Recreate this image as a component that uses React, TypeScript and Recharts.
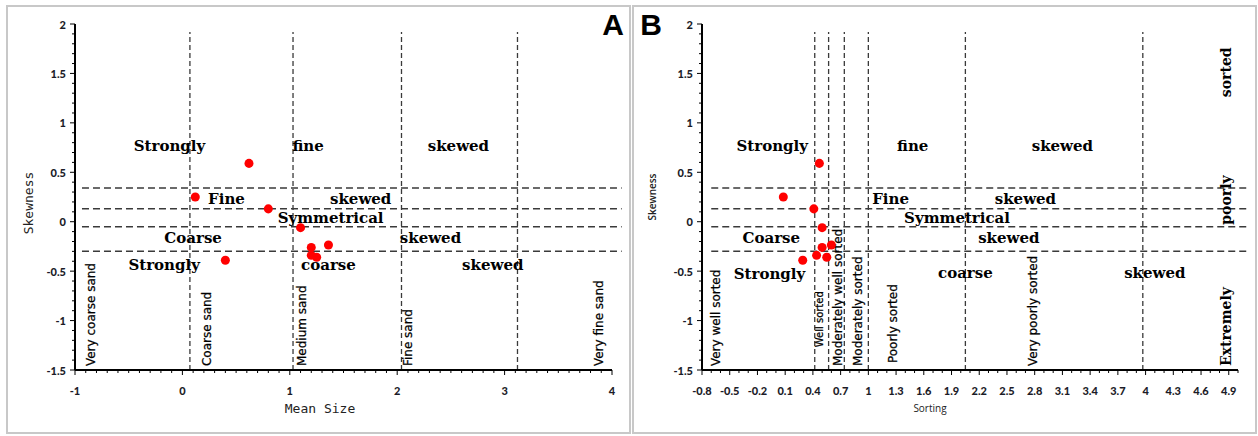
import { ReferenceDot, ReferenceLine, Scatter, ScatterChart, XAxis, YAxis, ZAxis } from "recharts";

// sample values (same 9 samples in both)
const MEAN_SIZE = [0.62, 0.12, 0.8, 1.1, 1.2, 1.36, 1.2, 1.25, 0.4];
const SORTING = [0.47, 0.08, 0.41, 0.5, 0.5, 0.6, 0.44, 0.55, 0.29];
const SKEWNESS = [0.59, 0.25, 0.13, -0.06, -0.26, -0.235, -0.34, -0.36, -0.39];

const SKEW_TICKS = [-1.5, -1, -0.5, 0, 0.5, 1, 1.5, 2];
const MEAN_TICKS = [-1, 0, 1, 2, 3, 4];
const SORT_TICKS = [
  -0.8, -0.5, -0.2, 0.1, 0.4, 0.7, 1, 1.3, 1.6, 1.9, 2.2, 2.5, 2.8, 3.1, 3.4, 3.7, 4, 4.3, 4.6, 4.9,
];

// class boundaries (dashed lines)
const SKEW_LIMITS = [0.34, 0.13, -0.05, -0.3];
const MEAN_LIMITS = [0.07, 1.03, 2.04, 3.12];
const SORT_LIMITS = [0.42, 0.57, 0.74, 1.0, 2.05, 3.97];

type Note = { text: string; x: number; y: number };

const SKEW_NOTES_A: Note[] = [
  { text: "Strongly", x: -0.12, y: 0.77 },
  { text: "fine", x: 1.17, y: 0.77 },
  { text: "skewed", x: 2.57, y: 0.77 },
  { text: "Fine", x: 0.41, y: 0.23 },
  { text: "skewed", x: 1.66, y: 0.23 },
  { text: "Symmetrical", x: 1.38, y: 0.04 },
  { text: "Coarse", x: 0.1, y: -0.165 },
  { text: "skewed", x: 2.31, y: -0.165 },
  { text: "Strongly", x: -0.17, y: -0.44 },
  { text: "coarse", x: 1.36, y: -0.44 },
  { text: "skewed", x: 2.89, y: -0.44 },
];

const SIZE_NOTES_A: Note[] = [
  { text: "Very coarse sand", x: -0.85, y: -1.46 },
  { text: "Coarse sand", x: 0.23, y: -1.46 },
  { text: "Medium sand", x: 1.11, y: -1.46 },
  { text: "Fine sand", x: 2.1, y: -1.46 },
  { text: "Very fine sand", x: 3.88, y: -1.46 },
];

const SKEW_NOTES_B: Note[] = [
  { text: "Strongly", x: -0.04, y: 0.77 },
  { text: "fine", x: 1.48, y: 0.77 },
  { text: "skewed", x: 3.1, y: 0.77 },
  { text: "Fine", x: 1.24, y: 0.23 },
  { text: "skewed", x: 2.7, y: 0.23 },
  { text: "Symmetrical", x: 1.96, y: 0.04 },
  { text: "Coarse", x: -0.05, y: -0.165 },
  { text: "skewed", x: 2.52, y: -0.165 },
  { text: "Strongly", x: -0.07, y: -0.53 },
  { text: "coarse", x: 2.05, y: -0.52 },
  { text: "skewed", x: 4.1, y: -0.52 },
];

const SORT_NOTES_B: (Note & { small?: boolean })[] = [
  { text: "Very well sorted", x: -0.65, y: -1.46 },
  { text: "Well sorted", x: 0.47, y: -1.27, small: true },
  { text: "Moderately well sorted", x: 0.67, y: -1.46 },
  { text: "Moderately sorted", x: 0.885, y: -1.46 },
  { text: "Poorly sorted", x: 1.265, y: -1.43 },
  { text: "Very poorly sorted", x: 2.78, y: -1.46 },
];

const EXTREME_NOTES_B: Note[] = [
  { text: "Extremely", x: 4.87, y: -1.46 },
  { text: "poorly", x: 4.87, y: -0.03 },
  { text: "sorted", x: 4.87, y: 1.26 },
];

const SERIF = "'DejaVu Serif', serif";
const SANS = "'DejaVu Sans', sans-serif";
const TICK_FONT = "Lato, 'Open Sans', sans-serif";

function tenths(from: number, to: number): number[] {
  const out: number[] = [];
  for (let i = Math.round(from * 10); i <= Math.round(to * 10); i++) out.push(i / 10);
  return out;
}

const isMajor = (v: number, majors: number[]) => majors.some((m) => Math.abs(m - v) < 1e-6);

function yTick(majors: number[]) {
  return (props: any) => {
    const { x, y, payload } = props;
    const major = isMajor(payload.value, majors);
    return (
      <g>
        <line x1={x - (major ? 5 : 3)} x2={x} y1={y} y2={y} stroke="#000" strokeWidth={1} />
        {major && (
          <text
            x={x - 9}
            y={y}
            textAnchor="end"
            dominantBaseline="central"
            fontFamily={TICK_FONT}
            fontWeight={900}
            fontSize={11}
            fill="#1c1c28"
          >
            {String(payload.value)}
          </text>
        )}
      </g>
    );
  };
}

function xTick(majors: number[]) {
  return (props: any) => {
    const { x, y, payload } = props;
    const major = isMajor(payload.value, majors);
    return (
      <g>
        <line x1={x} x2={x} y1={y} y2={y + (major ? 5 : 3)} stroke="#000" strokeWidth={1} />
        {major && (
          <text
            x={x}
            y={y + 20}
            textAnchor="middle"
            dominantBaseline="central"
            fontFamily={TICK_FONT}
            fontWeight={900}
            fontSize={11}
            fill="#1c1c28"
          >
            {String(payload.value)}
          </text>
        )}
      </g>
    );
  };
}

function boldText(text: string) {
  return (p: any) => (
    <text
      x={p.cx}
      y={p.cy}
      textAnchor="middle"
      dominantBaseline="central"
      fontFamily={SERIF}
      fontWeight={700}
      fontSize={15}
      fill="#000"
    >
      {text}
    </text>
  );
}

function upText(text: string, serif: boolean, size: number) {
  return (p: any) => (
    <text
      x={p.cx}
      y={p.cy}
      transform={`rotate(-90 ${p.cx} ${p.cy})`}
      textAnchor="start"
      dominantBaseline="central"
      fontFamily={serif ? SERIF : SANS}
      fontWeight={serif ? 700 : 400}
      fontSize={size}
      fill="#000"
      stroke={serif ? "none" : "#000"}
      strokeWidth={serif ? 0 : 0.25}
    >
      {text}
    </text>
  );
}

const VLINE = { stroke: "#3a3a3a", strokeWidth: 1.3, strokeDasharray: "5 3" };
const HLINE = { stroke: "#3a3a3a", strokeWidth: 1.5, strokeDasharray: "7 4" };

export default function App() {
  const pointsA = MEAN_SIZE.map((x, i) => ({ x, y: SKEWNESS[i] }));
  const pointsB = SORTING.map((x, i) => ({ x, y: SKEWNESS[i] }));
  const yTicks = tenths(-1.5, 2);

  return (
    <div style={{ position: "absolute", left: 0, top: 0, width: 1258, height: 436, background: "#fff" }}>
      <div
        style={{
          position: "absolute",
          left: 6,
          top: 5,
          width: 625,
          height: 429,
          border: "2px solid #c8c8c8",
          boxSizing: "border-box",
        }}
      />
      <div
        style={{
          position: "absolute",
          left: 632,
          top: 5,
          width: 625,
          height: 429,
          border: "2px solid #c8c8c8",
          boxSizing: "border-box",
        }}
      />

      {/* Panel A: mean size vs skewness */}
      <div style={{ position: "absolute", left: 0, top: 0 }}>
        <ScatterChart width={630} height={436} margin={{ top: 24, right: 18, bottom: 36, left: 35 }}>
          <XAxis
            type="number"
            dataKey="x"
            domain={[-1, 4]}
            ticks={tenths(-1, 4)}
            interval={0}
            tickSize={0}
            tickMargin={0}
            tickLine={false}
            tick={xTick(MEAN_TICKS)}
            axisLine={{ stroke: "#000", strokeWidth: 2 }}
            height={30}
          />
          <YAxis
            type="number"
            dataKey="y"
            domain={[-1.5, 2]}
            ticks={yTicks}
            interval={0}
            tickSize={0}
            tickMargin={0}
            tickLine={false}
            tick={yTick(SKEW_TICKS)}
            axisLine={{ stroke: "#000", strokeWidth: 2 }}
            width={40}
          />
          <ZAxis range={[50, 50]} />
          {MEAN_LIMITS.map((v) => (
            <ReferenceLine
              key={`va${v}`}
              segment={[
                { x: v, y: -1.5 },
                { x: v, y: 1.92 },
              ]}
              ifOverflow="visible"
              {...VLINE}
            />
          ))}
          {SKEW_LIMITS.map((v) => (
            <ReferenceLine
              key={`ha${v}`}
              segment={[
                { x: -0.935, y: v },
                { x: 4.09, y: v },
              ]}
              ifOverflow="visible"
              {...HLINE}
            />
          ))}
          {SKEW_NOTES_A.map((n, i) => (
            <ReferenceDot key={`sa${i}`} x={n.x} y={n.y} r={0} ifOverflow="visible" shape={boldText(n.text)} />
          ))}
          {SIZE_NOTES_A.map((n, i) => (
            <ReferenceDot key={`za${i}`} x={n.x} y={n.y} r={0} ifOverflow="visible" shape={upText(n.text, false, 12)} />
          ))}
          <Scatter data={pointsA} fill="#ff0000" isAnimationActive={false} />
        </ScatterChart>
      </div>

      {/* Panel B: sorting vs skewness */}
      <div style={{ position: "absolute", left: 633, top: 0 }}>
        <ScatterChart width={625} height={436} margin={{ top: 24, right: 20, bottom: 36, left: 29 }}>
          <XAxis
            type="number"
            dataKey="x"
            domain={[-0.8, 5]}
            ticks={tenths(-0.8, 5)}
            interval={0}
            tickSize={0}
            tickMargin={0}
            tickLine={false}
            tick={xTick(SORT_TICKS)}
            axisLine={{ stroke: "#000", strokeWidth: 2 }}
            height={30}
          />
          <YAxis
            type="number"
            dataKey="y"
            domain={[-1.5, 2]}
            ticks={yTicks}
            interval={0}
            tickSize={0}
            tickMargin={0}
            tickLine={false}
            tick={yTick(SKEW_TICKS)}
            axisLine={{ stroke: "#000", strokeWidth: 2 }}
            width={40}
          />
          <ZAxis range={[50, 50]} />
          {SORT_LIMITS.map((v) => (
            <ReferenceLine
              key={`vb${v}`}
              segment={[
                { x: v, y: -1.5 },
                { x: v, y: 1.92 },
              ]}
              ifOverflow="visible"
              {...VLINE}
            />
          ))}
          {SKEW_LIMITS.map((v) => (
            <ReferenceLine
              key={`hb${v}`}
              segment={[
                { x: -0.7, y: v },
                { x: 5.12, y: v },
              ]}
              ifOverflow="visible"
              {...HLINE}
            />
          ))}
          {SKEW_NOTES_B.map((n, i) => (
            <ReferenceDot key={`sb${i}`} x={n.x} y={n.y} r={0} ifOverflow="visible" shape={boldText(n.text)} />
          ))}
          {SORT_NOTES_B.map((n, i) => (
            <ReferenceDot
              key={`zb${i}`}
              x={n.x}
              y={n.y}
              r={0}
              ifOverflow="visible"
              shape={upText(n.text, false, n.small ? 10 : 12)}
            />
          ))}
          {EXTREME_NOTES_B.map((n, i) => (
            <ReferenceDot key={`eb${i}`} x={n.x} y={n.y} r={0} ifOverflow="visible" shape={upText(n.text, true, 14)} />
          ))}
          <Scatter data={pointsB} fill="#ff0000" isAnimationActive={false} />
        </ScatterChart>
      </div>

      <svg
        width={1258}
        height={436}
        style={{ position: "absolute", left: 0, top: 0, pointerEvents: "none" }}
      >
        <text x={613} y={35} textAnchor="middle" fontFamily="'Liberation Sans', Arial, sans-serif" fontWeight={700} fontSize={30} fill="#000">
          A
        </text>
        <text x={651} y={35} textAnchor="middle" fontFamily="'Liberation Sans', Arial, sans-serif" fontWeight={700} fontSize={30} fill="#000">
          B
        </text>
        <text x={320} y={408} textAnchor="middle" dominantBaseline="central" fontFamily="'DejaVu Sans Mono', monospace" fontSize={13} fill="#222">
          Mean Size
        </text>
        <text
          x={28}
          y={203}
          transform="rotate(-90 28 203)"
          textAnchor="middle"
          dominantBaseline="central"
          fontFamily="'DejaVu Sans Mono', monospace"
          fontSize={13}
          fill="#222"
        >
          Skewness
        </text>
        <text x={930} y={408} textAnchor="middle" dominantBaseline="central" fontFamily="'Open Sans', sans-serif" fontSize={10} fill="#222">
          Sorting
        </text>
        <text
          x={652}
          y={197}
          transform="rotate(-90 652 197)"
          textAnchor="middle"
          dominantBaseline="central"
          fontFamily="'Open Sans', sans-serif"
          fontWeight={600}
          fontSize={10}
          fill="#222"
        >
          Skewness
        </text>
      </svg>
    </div>
  );
}
